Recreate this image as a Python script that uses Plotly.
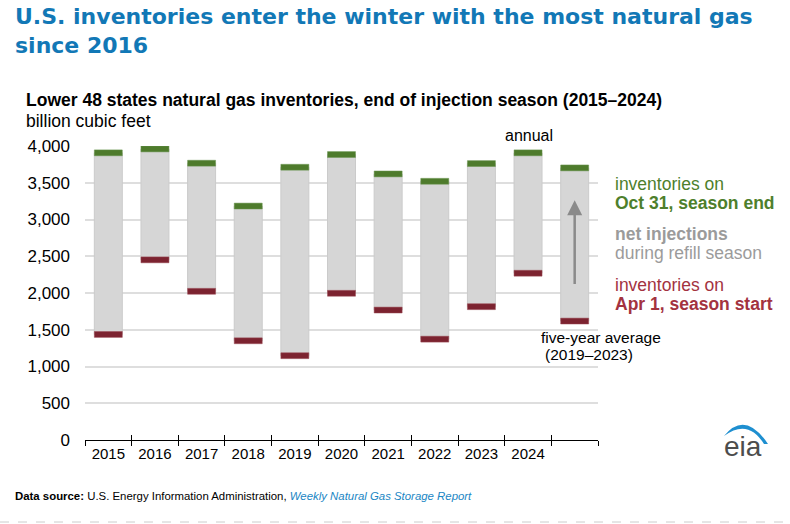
import plotly.graph_objects as go

# data (billion cubic feet)
categories = ["2015", "2016", "2017", "2018", "2019", "2020", "2021", "2022", "2023", "2024", "avg"]
tick_labels = ["2015", "2016", "2017", "2018", "2019", "2020", "2021", "2022", "2023", "2024", ""]
apr1_start = [1436, 2451, 2023, 1350, 1147, 1996, 1768, 1372, 1814, 2269, 1618]
oct31_end = [3907, 3960, 3766, 3183, 3711, 3884, 3620, 3520, 3761, 3907, 3702]
net_injections = [e - s for s, e in zip(apr1_start, oct31_end)]
arrow_from, arrow_to = 2102, 3263

CAP = 80  # thickness of start/end markers, in bcf
GREEN = "#4e7b2c"
RED = "#7c2330"
W, H = 790, 524
L, R, T, B = 85, 192, 146, 84


def px(x):
    return (x - L) / (W - L - R)


def py(y):
    return (H - B - y) / (H - T - B)


fig = go.Figure()

fig.add_trace(go.Bar(x=categories, y=net_injections, base=apr1_start, width=0.6,
                     marker=dict(color="#d6d6d6", line=dict(color="#cbcbcb", width=1)),
                     hoverinfo="skip"))
fig.add_trace(go.Bar(x=categories, y=[CAP] * len(categories), base=[v - CAP / 2 for v in apr1_start],
                     width=0.6, marker=dict(color=RED, line=dict(color="#9a4a55", width=0.5)),
                     name="Apr 1"))
fig.add_trace(go.Bar(x=categories, y=[CAP] * len(categories), base=[v - CAP / 2 for v in oct31_end],
                     width=0.6, marker=dict(color=GREEN, line=dict(color="#6b9450", width=0.5)),
                     name="Oct 31"))
# empty trace so the second x axis (inside half of the crossing ticks) gets drawn
fig.add_trace(go.Scatter(x=[categories[0]], y=[None], xaxis="x2", showlegend=False, hoverinfo="skip"))

font = "Liberation Sans, Arial, sans-serif"

fig.update_layout(
    width=W, height=H,
    margin=dict(l=L, r=R, t=T, b=B, autoexpand=False),
    barmode="overlay",
    showlegend=False,
    plot_bgcolor="white", paper_bgcolor="white",
    font=dict(family=font, size=15, color="black"),
    xaxis=dict(type="category", tickmode="array", tickvals=categories, ticktext=tick_labels,
               tickson="boundaries", ticks="outside", ticklen=5, tickcolor="black", tickwidth=1,
               showline=True, linecolor="black", linewidth=1, showgrid=False, automargin=False,
               tickfont=dict(size=15), range=[-0.5, 10.5]),
    xaxis2=dict(type="category", overlaying="x", matches="x", side="bottom", anchor="y",
                tickmode="array", tickvals=categories, ticktext=[""] * len(categories),
                tickson="boundaries", ticks="inside", ticklen=5, tickcolor="black",
                showline=False, showgrid=False, automargin=False),
    yaxis=dict(range=[0, 4000], dtick=500, tickformat=",", showgrid=True, gridcolor="#dedede",
               gridwidth=1.5, zeroline=False, ticks="", tickfont=dict(size=17),
               ticklabelstandoff=14, automargin=False),
)

title_font = dict(family="DejaVu Sans, sans-serif", size=22, color="#1278b6", weight="bold")
ann = [
    dict(text="U.S. inventories enter the winter with the most natural gas",
         x=px(13), y=py(2), xanchor="left", yanchor="top", font=title_font),
    dict(text="since 2016", x=px(13), y=py(31), xanchor="left", yanchor="top", font=title_font),
    dict(text="<b>Lower 48 states natural gas inventories, end of injection season (2015–2024)</b>",
         x=px(24), y=py(100), xanchor="left", yanchor="middle", font=dict(size=17.5)),
    dict(text="billion cubic feet", x=px(24), y=py(121), xanchor="left", yanchor="middle",
         font=dict(size=17.5)),
    dict(text="annual", x=px(529), y=py(135), xanchor="center", yanchor="middle", font=dict(size=16)),
    dict(text="five-year average", x=px(539), y=py(337), xanchor="left", yanchor="middle",
         font=dict(size=15.5)),
    dict(text="(2019–2023)", x=px(543), y=py(354), xanchor="left", yanchor="middle",
         font=dict(size=15.5)),
    dict(text="inventories on", x=px(613), y=py(184), xanchor="left", yanchor="middle",
         font=dict(size=17.5, color="#4e7f2c")),
    dict(text="<b>Oct 31, season end</b>", x=px(613), y=py(203), xanchor="left", yanchor="middle",
         font=dict(size=17.5, color="#4e7f2c")),
    dict(text="<b>net injections</b>", x=px(613), y=py(234), xanchor="left", yanchor="middle",
         font=dict(size=17.5, color="#9b9b9b")),
    dict(text="during refill season", x=px(613), y=py(253), xanchor="left", yanchor="middle",
         font=dict(size=17.5, color="#9b9b9b")),
    dict(text="inventories on", x=px(613), y=py(285), xanchor="left", yanchor="middle",
         font=dict(size=17.5, color="#a3333f")),
    dict(text="<b>Apr 1, season start</b>", x=px(613), y=py(304), xanchor="left", yanchor="middle",
         font=dict(size=17.5, color="#a3333f")),
    dict(text="<b>Data source:</b> U.S. Energy Information Administration, "
              "<i><span style='color:#1a86c4'>Weekly Natural Gas Storage Report</span></i>",
         x=px(13), y=py(496), xanchor="left", yanchor="middle", font=dict(size=11.4)),
    dict(text="eia", x=px(743), y=py(446), xanchor="center", yanchor="middle",
         font=dict(family="Liberation Sans, Arial", size=28, color="#4d4d4d")),
]
for a in ann:
    fig.add_annotation(xref="paper", yref="paper", showarrow=False, **a)

fig.add_annotation(x="avg", y=arrow_to, ax="avg", ay=arrow_from, xref="x", yref="y",
                   axref="x", ayref="y", showarrow=True, arrowhead=2, arrowsize=1.2,
                   arrowwidth=2.5, arrowcolor="#8a8a8a", text="")

# eia swoosh
p = [(724, 436), (745, 410), (768, 444), (764, 444), (748, 418), (724, 436)]
path = "M {},{} Q {},{} {},{} L {},{} Q {},{} {},{} Z".format(
    px(p[0][0]), py(p[0][1]), px(p[1][0]), py(p[1][1]), px(p[2][0]), py(p[2][1]),
    px(p[3][0]), py(p[3][1]), px(p[4][0]), py(p[4][1]), px(p[5][0]), py(p[5][1]))
fig.add_shape(type="path", path=path, xref="paper", yref="paper",
              fillcolor="#1e8fd0", line=dict(width=0))

fig.add_shape(type="line", xref="paper", yref="paper", x0=px(0), x1=px(W), y0=py(522), y1=py(522),
              line=dict(color="#cccccc", width=1, dash="dash"))

# drop the browser's default body margin so the figure sits at the page corner
fig.write_html("out.html", config={"displayModeBar": False},
               post_script="document.body.style.margin='0';")
